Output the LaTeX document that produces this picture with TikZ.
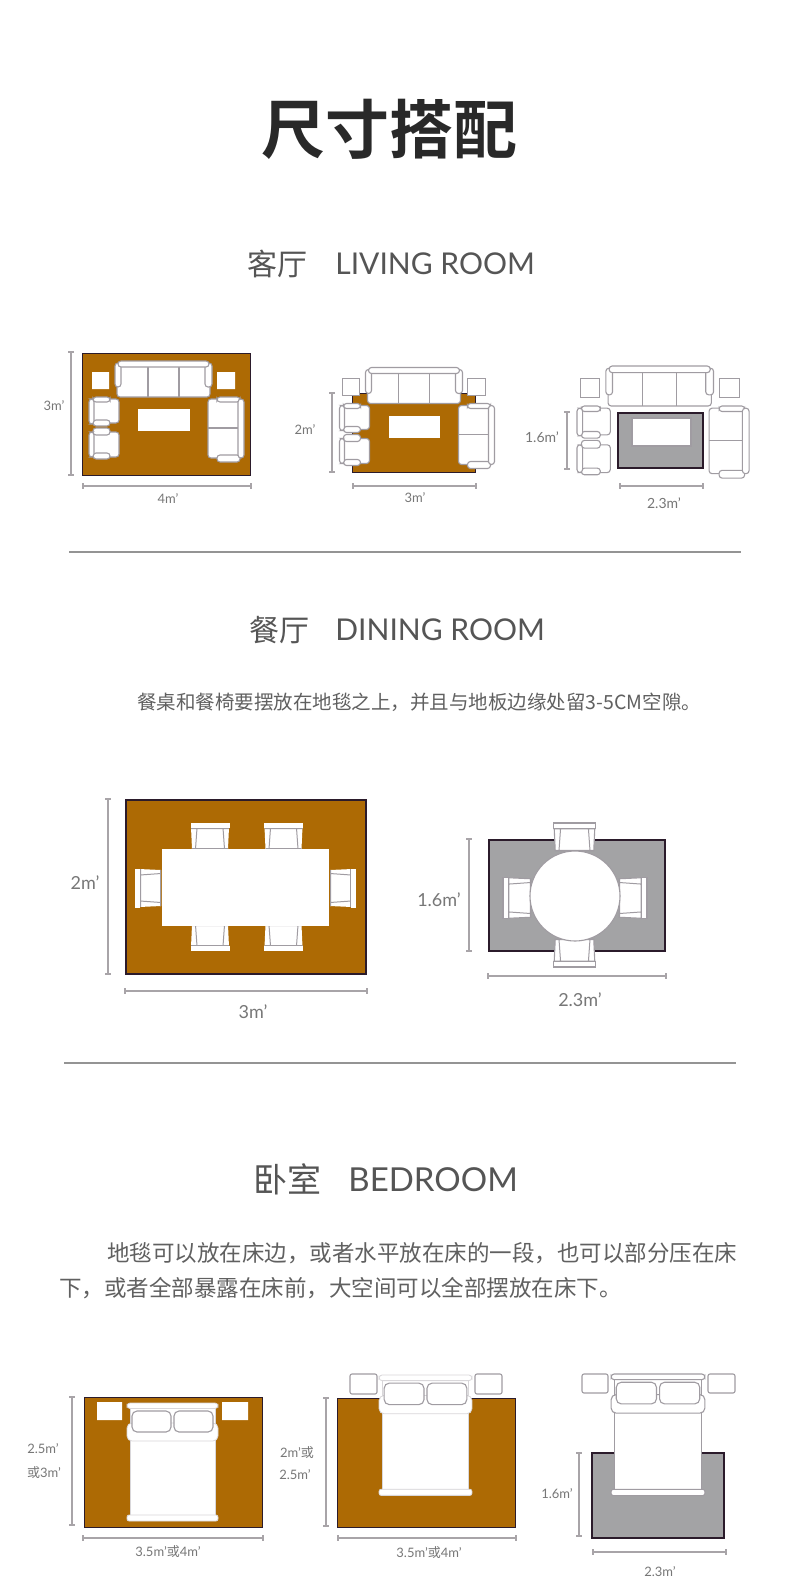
\documentclass[tikz,border=0pt]{standalone}
\usepackage{fontspec}
\setmainfont{Lato}
\newfontfamily\cj{Noto Sans CJK SC}
\newfontfamily\cjb{Noto Sans CJK SC Bold}
\definecolor{rugbrown}{HTML}{AD6A04}
\definecolor{ruggray}{HTML}{A3A3A5}
\definecolor{rugedge}{HTML}{2B1B2B}
\definecolor{furnline}{HTML}{A09CA2}
\definecolor{dimgray}{HTML}{A8A4A8}
\definecolor{labelgray}{HTML}{777777}
\definecolor{headgray}{HTML}{555555}
\definecolor{bodygray}{HTML}{606060}
\tikzset{
  rugb/.style={fill=rugbrown,draw=rugedge,line width=0.5pt},
  rugg/.style={fill=ruggray,draw=rugedge,line width=0.8pt},
  furn/.style={fill=white,draw=furnline,line width=0.55pt,rounded corners=1.5pt},
  plainwhite/.style={fill=white,draw=none},
  boxed/.style={fill=white,draw=furnline,line width=0.55pt},
  sidetable/.style={plainwhite},
  chairpart/.style={plainwhite},
  bedpart/.style={fill=white,draw=furnline!40,line width=0.4pt},
  dimline/.style={draw=dimgray,line width=0.6pt},
  lab/.style={text=labelgray,font=\fontsize{6.5}{7.5}\selectfont,inner sep=0pt},
  labm/.style={text=labelgray,font=\fontsize{7}{8}\selectfont,inner sep=0pt},
  labl/.style={text=labelgray,font=\fontsize{9}{10}\selectfont,inner sep=0pt},
  headc/.style={text=headgray,font=\cj\fontsize{15}{18}\selectfont,inner sep=0pt},
  headl/.style={text=headgray,font=\fontsize{15}{18}\selectfont,inner sep=0pt,anchor=west},
  bodytext/.style={text=bodygray,inner sep=0pt,anchor=west},
  sep/.style={draw=black!42,line width=0.65pt}
}
\newcommand{\dimv}[3]{\draw[dimline] (#1,#2) -- (#1,#3) (#1-3,#2) -- (#1+3,#2) (#1-3,#3) -- (#1+3,#3);}
\newcommand{\dimh}[3]{\draw[dimline] (#2,#1) -- (#3,#1) (#2,#1-3) -- (#2,#1+3) (#3,#1-3) -- (#3,#1+3);}
% sofa group, drawn in the first group's pixel coordinates
\newcommand{\sofaset}[3]{%
\begin{scope}[shift={(#1,#2)},scale=#3,shift={(-89,-361)}]
  \path[sidetable] (92,372) rectangle (109,389) (217,372) rectangle (235,389);
  \draw[furn] (117,366) rectangle (210,397);
  \draw[furnline,line width=0.55pt] (148,367) -- (148,397) (179,367) -- (179,397);
  \draw[furn] (115,363) rectangle (121,387);
  \draw[furn] (205,363) rectangle (212,387);
  \draw[furn] (118,361) rectangle (209,367);
  \draw[furn] (92,399) rectangle (119,423);
  \draw[furn] (93,397) rectangle (110,402);
  \draw[furn] (93,420) rectangle (110,426);
  \draw[furn] (89,399) rectangle (94,424);
  \draw[furn] (92,432) rectangle (119,457);
  \draw[furn] (93,428) rectangle (110,435);
  \draw[furn] (93,453) rectangle (110,459);
  \draw[furn] (89,432) rectangle (94,457);
  \draw[furn] (208,399) rectangle (239,458);
  \draw[furnline,line width=0.55pt] (208,428) -- (239,428);
  \draw[furn] (217,397) rectangle (240,402);
  \draw[furn] (217,455) rectangle (240,462);
  \draw[furn] (238,399) rectangle (244,458);
\end{scope}}
% dining chair: position of the back bar, rotation, scale
\newcommand{\dchair}[4]{%
\begin{scope}[shift={(#1,#2)},rotate=#3,scale=#4]
  \path[chairpart] (-19,4) -- (-18,26) -- (18,26) -- (19,4) -- cycle;
  \draw[furnline,line width=0.5pt] (-13,5) -- (-14.5,26) (13,5) -- (14.5,26) (-18,25.5) -- (18,25.5) (-19,5.5) -- (19,5.5);
  \path[chairpart] (-19.5,0) rectangle (19.5,5);
\end{scope}}
% bed: centre x, top y, scale
\newcommand{\bedset}[3]{%
\begin{scope}[shift={(#1,#2)},scale=#3]
  \path[bedpart] (-42.5,5) rectangle (42.5,112.5);
  \path[bedpart,rounded corners=1.5pt] (-45.5,0) rectangle (45.5,5.5);
  \path[bedpart,rounded corners=2.5pt] (-45.5,20) rectangle (45.5,38);
  \draw[furn,rounded corners=2.5pt] (-40.5,8) rectangle (-1.5,29);
  \draw[furn,rounded corners=2.5pt] (1.5,8) rectangle (40.5,29);
  \path[bedpart,rounded corners=1pt] (-45.5,112) rectangle (45.5,118);
\end{scope}}
\begin{document}
\begin{tikzpicture}[x=0.5pt,y=-0.5pt]
\useasboundingbox (0,0) rectangle (790,1596);
\fill[white] (0,0) rectangle (790,1596);

\node[text=black!84,font=\cjb\fontsize{32}{36}\selectfont,inner sep=0pt] (maintitle) at (389.5,129) {尺寸搭配};

% ---------- living room
\node[headc] (h1c) at (277,263.5) {客厅};
\node[headl] (h1l) at (335,263.5) {LIVING ROOM};

\draw[rugb] (82,353) rectangle (250,475);
\sofaset{89}{361}{1}
\fill[white] (138,409) rectangle (190,431);
\dimv{71}{352}{475}
\dimh{486}{83}{251}
\node[lab] (l1a) at (54,406) {3m'};
\node[lab] (l1b) at (168,499) {4m'};

\draw[rugb] (352,393) rectangle (475,472);
\begin{scope}
\tikzset{sidetable/.style={boxed}}
\sofaset{339.5}{367.5}{1}
\end{scope}
\fill[white] (389,416) rectangle (440,438);
\dimv{332}{393}{472}
\dimh{486}{353}{476}
\node[lab] (l2a) at (305,430) {2m'};
\node[lab] (l2b) at (415,498) {3m'};

\begin{scope}
\tikzset{sidetable/.style={boxed}}
\sofaset{577}{366}{1.11}
\end{scope}
\draw[rugg] (618,413) rectangle (703,468);
\draw[boxed,line width=0.7pt] (632,418) rectangle (691,446);
\dimv{567}{412}{469}
\dimh{486}{620}{703}
\node[labm] (l3a) at (542,437) {1.6m'};
\node[labm] (l3b) at (664,503) {2.3m'};

\draw[sep] (69,552) -- (741,552);

% ---------- dining room
\node[headc] (h2c) at (279,630) {餐厅};
\node[headl] (h2l) at (335,630) {DINING ROOM};
\node[bodytext,font=\cj\fontsize{9.75}{12}\selectfont] (t2) at (137,702) {餐桌和餐椅要摆放在地毯之上，并且与地板边缘处留3-5CM空隙。};

\draw[rugb,line width=1pt] (126,800) rectangle (366,974);
\dchair{210}{823}{0}{1}
\dchair{283.5}{823}{0}{1}
\dchair{210}{951}{180}{1}
\dchair{283.5}{951}{180}{1}
\dchair{135}{888}{90}{1}
\dchair{356}{888}{-90}{1}
\fill[white] (162,849) rectangle (329,926);
\dimv{108}{799}{974}
\dimh{991}{125}{367}
\node[labl] (l4a) at (85,883) {2m'};
\node[labl] (l4b) at (253,1012) {3m'};

\draw[rugg] (489,840) rectangle (665,951);
\begin{scope}
\tikzset{chairpart/.style={boxed}}
\dchair{574.5}{823}{0}{1.07}
\dchair{574.5}{967}{180}{1.07}
\dchair{503}{898}{90}{1.07}
\dchair{647}{898}{-90}{1.07}
\end{scope}
\draw[boxed] (575,896) circle [radius=45];
\dimv{469}{839}{951}
\dimh{976}{488}{666}
\node[labl] (l5a) at (439,900) {1.6m'};
\node[labl] (l5b) at (580,1000) {2.3m'};

\draw[sep] (64,1063) -- (736,1063);

% ---------- bedroom
\node[text=headgray,font=\cj\fontsize{17}{20}\selectfont,inner sep=0pt] (h3c) at (287.5,1179.5) {卧室};
\node[headl,font=\fontsize{16.5}{20}\selectfont] (h3l) at (348,1180) {BEDROOM};
\node[bodytext,font=\cj\fontsize{11.25}{14}\selectfont] (t3a) at (107,1253) {地毯可以放在床边，或者水平放在床的一段，也可以部分压在床};
\node[bodytext,font=\cj\fontsize{11.25}{14}\selectfont] (t3b) at (59,1288) {下，或者全部暴露在床前，大空间可以全部摆放在床下。};

\draw[rugb] (84,1397) rectangle (262,1527);
\fill[white] (97,1402) rectangle (122,1420) (222,1402) rectangle (248,1420);
\bedset{172.5}{1403}{1}
\dimv{72}{1397}{1525}
\dimh{1538}{83}{263}
\node[lab] (l6a) at (43,1449) {2.5m'};
\node[lab] (l6b) at (44,1473) {{\cj 或}3m'};
\node[lab] (l6c) at (168,1552) {3.5m'{\cj 或}4m'};

\draw[rugb] (337,1398) rectangle (515,1527);
\draw[boxed,rounded corners=1pt] (350,1374) rectangle (377,1394) (475,1374) rectangle (502,1394);
\bedset{425.5}{1375}{1.02}
\dimv{326}{1398}{1526}
\dimh{1538}{338}{516}
\node[lab] (l7a) at (297,1453) {2m'{\cj 或}};
\node[lab] (l7b) at (295,1475) {2.5m'};
\node[lab] (l7c) at (429,1553) {3.5m'{\cj 或}4m'};

\draw[rugg] (592,1453) rectangle (724,1538);
\draw[boxed,rounded corners=1pt] (582,1374) rectangle (608,1393) (708,1374) rectangle (735,1393);
\begin{scope}
\tikzset{bedpart/.style={fill=white,draw=furnline,line width=0.55pt}}
\bedset{658}{1374}{1.03}
\end{scope}
\dimv{579}{1453}{1536}
\dimh{1552}{593}{726}
\node[lab] (l8a) at (557,1494) {1.6m'};
\node[lab] (l8b) at (660,1572) {2.3m'};
\end{tikzpicture}
\end{document}
